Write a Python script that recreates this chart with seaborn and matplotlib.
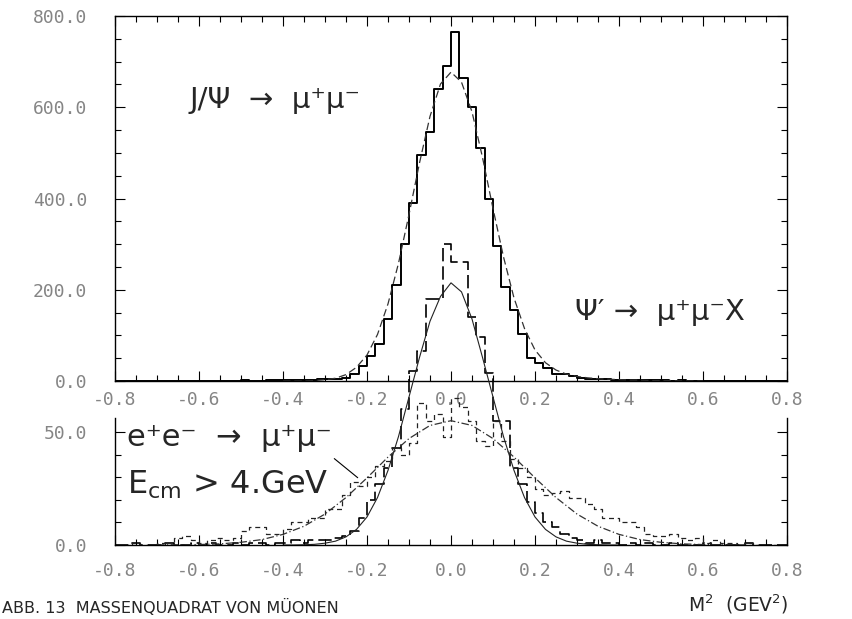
import numpy as np
import pandas as pd
import matplotlib
matplotlib.use("Agg")
import matplotlib.pyplot as plt
from matplotlib.ticker import MultipleLocator, FixedLocator
import seaborn as sns

# bins of 0.02 GeV^2 from -0.8 to 0.8
bin_lo, bin_hi, bin_w = -0.8, 0.8, 0.02

jpsi_counts = [0, 0, 0, 1, 0, 0, 1, 0, 1, 0, 1, 1, 0, 1, 1, 2, 1, 1, 2, 2,
               2, 2, 3, 3, 4,
               5, 5, 7, 15, 33,
               55, 81, 136, 210, 300,
               390, 495, 545, 640, 690,
               765, 665, 600, 510, 400,
               295, 205, 155, 103, 51,
               40, 29, 15, 15, 12,
               6, 5, 5, 4, 3,
               3, 2, 2, 3, 2, 2, 1, 2, 1, 1, 1, 1, 0, 1, 0, 1, 0, 0, 1, 0]

psi2_counts = [0, 0, 1, 0, 0, 0, 1, 0, 0, 1, 0, 1, 0, 0, 1, 0, 1, 1, 0, 1,
               1, 2, 1, 2, 2,
               2, 3, 4, 6, 12,
               20, 27, 34, 43, 60,
               77, 86, 109, 109, 133,
               125, 125, 101, 92, 76,
               55, 55, 34, 27, 19,
               14, 10, 8, 5, 3,
               2, 1, 2, 1, 1,
               0, 1, 0, 1, 0, 0, 1, 0, 0, 0, 1, 0, 0, 0, 0, 1, 0, 0, 0, 0]

ee_counts = [0, 0, 1, 0, 0, 1, 0, 3, 4, 2,
             1, 2, 3, 2, 3, 6, 8, 8, 5, 5,
             7, 10, 10, 12, 12, 16, 16, 22, 28, 26,
             30, 35, 37, 43, 40, 45, 63, 55, 58, 48,
             65, 61, 55, 46, 44, 55, 46, 38, 34, 30,
             25, 22, 23, 24, 21, 21, 18, 16, 12, 12,
             10, 10, 8, 5, 4, 4, 5, 3, 2, 3,
             1, 2, 1, 1, 0, 1, 0, 0, 0, 0]

# fitted curves
jpsi_fit_x = [-0.400, -0.375, -0.350, -0.325, -0.300, -0.275, -0.250, -0.225, -0.200,
              -0.175, -0.150, -0.125, -0.100, -0.075, -0.050, -0.025, 0.000, 0.025,
              0.050, 0.075, 0.100, 0.125, 0.150, 0.175, 0.200, 0.225, 0.250, 0.275,
              0.300, 0.325, 0.350, 0.375, 0.400, 0.425, 0.450, 0.475, 0.500, 0.525,
              0.550, 0.575, 0.600]
jpsi_fit_y = [0, 0, 0, 1, 3, 6, 14, 30, 57, 102, 169, 258, 365, 478, 580, 651, 677, 655,
              590, 490, 378, 272, 182, 115, 68, 40, 24, 15, 10, 7, 5, 4, 3, 2, 2, 1, 1, 1,
              0, 0, 0]

psi2_fit_x = [-0.400, -0.375, -0.350, -0.325, -0.300, -0.275, -0.250, -0.225, -0.200,
              -0.175, -0.150, -0.125, -0.100, -0.075, -0.050, -0.025, 0.000, 0.025,
              0.050, 0.075, 0.100, 0.125, 0.150, 0.175, 0.200, 0.225, 0.250, 0.275,
              0.300, 0.325, 0.350, 0.375, 0.400]
psi2_fit_y = [0, 0, 0.1, 0.3, 0.8, 1.7, 3.6, 6.9, 12.4, 21, 33, 48, 65.5, 83, 99, 110, 116,
              112, 100, 83, 65.5, 48, 33, 21, 12.4, 6.9, 3.6, 1.7, 0.8, 0.3, 0.1, 0, 0]

ee_fit_x = [-0.70, -0.65, -0.60, -0.55, -0.50, -0.45, -0.40, -0.35, -0.30, -0.25, -0.20,
            -0.15, -0.10, -0.05, 0.00, 0.05, 0.10, 0.15, 0.20, 0.25, 0.30, 0.35, 0.40,
            0.45, 0.50, 0.55, 0.60, 0.65, 0.70]
ee_fit_y = [0.05, 0.1, 0.2, 0.5, 1.2, 2.4, 4.7, 8.3, 13.7, 21, 29.7, 38.9, 47.1, 52.9, 55,
            52.9, 47.1, 38.9, 29.7, 21, 13.7, 8.3, 4.7, 2.4, 1.2, 0.5, 0.2, 0.1, 0.05]

top_yticks = [0, 200, 400, 600, 800]
bot_yticks = [0, 50]
xticks = [-0.8, -0.6, -0.4, -0.2, 0.0, 0.2, 0.4, 0.6, 0.8]

edges = [round(e, 3) for e in np.arange(bin_lo, bin_hi + bin_w / 2, bin_w)]
centers = [e + bin_w / 2 for e in edges[:-1]]
hist = pd.DataFrame({"m2": centers, "jpsi": jpsi_counts, "psi2": psi2_counts, "ee": ee_counts})

sns.set_theme(style="ticks")
plt.rcParams["font.family"] = ["DejaVu Sans"]

W, H = 852, 619
fig = plt.figure(figsize=(W / 100, H / 100), dpi=100)
fig.patch.set_facecolor("white")

# pixel layout of the two overlapping panels
left, right = 115, 787
top_top, top_base = 16, 381
bot_base = 545
px_per_count = 2.26

ax_top = fig.add_axes([left / W, 1 - top_base / H, (right - left) / W, (top_base - top_top) / H])
ax_bot = fig.add_axes([left / W, 1 - bot_base / H, (right - left) / W, (bot_base - top_top) / H])
ax_top.set_facecolor("white")
ax_bot.set_facecolor("none")

# J/psi panel
sns.histplot(data=hist, x="m2", weights="jpsi", bins=edges, element="step", fill=False,
             color="black", linewidth=1.4, ax=ax_top)
sns.lineplot(x=jpsi_fit_x, y=jpsi_fit_y, ax=ax_top, color="#333333", linewidth=0.9,
             linestyle=(0, (6, 3)))

# psi' and e+e- panel
sns.histplot(data=hist, x="m2", weights="psi2", bins=edges, element="step", fill=False,
             color="black", linewidth=1.2, linestyle=(0, (8, 3)), ax=ax_bot)
sns.lineplot(x=psi2_fit_x, y=psi2_fit_y, ax=ax_bot, color="#222222", linewidth=0.8)
sns.histplot(data=hist, x="m2", weights="ee", bins=edges, element="step", fill=False,
             color="#222222", linewidth=0.9, linestyle=(0, (4, 3)), ax=ax_bot)
sns.lineplot(x=ee_fit_x, y=ee_fit_y, ax=ax_bot, color="#333333", linewidth=0.9,
             linestyle=(0, (6, 2, 1, 2)))

tick_color = "#858585"
mono = "DejaVu Sans Mono"

ax_top.set_xlim(-0.8, 0.8)
ax_top.set_ylim(0, 800)
ax_top.set_xticks(xticks)
ax_top.set_xticklabels([f"{t:.1f}" for t in xticks])
ax_top.xaxis.set_minor_locator(MultipleLocator(0.05))
ax_top.set_yticks(top_yticks)
ax_top.set_yticklabels([f"{t:.1f}" for t in top_yticks])
ax_top.yaxis.set_minor_locator(MultipleLocator(50))
ax_top.tick_params(which="both", direction="in", top=True, right=True, color="black")
ax_top.tick_params(which="major", length=7, width=0.8)
ax_top.tick_params(which="minor", length=4, width=0.8)
ax_top.tick_params(axis="x", pad=7, labelsize=13, labelcolor=tick_color)
ax_top.tick_params(axis="y", pad=20, labelsize=13, labelcolor=tick_color)
for sp in ax_top.spines.values():
    sp.set_linewidth(1.0)
    sp.set_color("black")

ax_bot.set_xlim(-0.8, 0.8)
ax_bot.set_ylim(0, (bot_base - top_top) / px_per_count)
ax_bot.set_xticks(xticks)
ax_bot.set_xticklabels([f"{t:.1f}" for t in xticks])
ax_bot.xaxis.set_minor_locator(MultipleLocator(0.05))
ax_bot.set_yticks(bot_yticks)
ax_bot.set_yticklabels([f"{t:.1f}" for t in bot_yticks])
ax_bot.yaxis.set_minor_locator(FixedLocator([10, 20, 30, 40]))
ax_bot.tick_params(which="both", direction="in", top=False, right=True, color="black")
ax_bot.tick_params(which="major", length=7, width=0.8)
ax_bot.tick_params(which="minor", length=4, width=0.8)
ax_bot.tick_params(axis="x", pad=12, labelsize=13, labelcolor=tick_color)
ax_bot.tick_params(axis="y", pad=20, labelsize=13, labelcolor=tick_color)
ax_bot.spines["top"].set_visible(False)
ax_bot.spines["left"].set_bounds(0, 56)
ax_bot.spines["right"].set_bounds(0, 56)
for sp in ax_bot.spines.values():
    sp.set_linewidth(1.0)
    sp.set_color("black")

for ax in (ax_top, ax_bot):
    ax.set_xlabel("")
    ax.set_ylabel("")
    for lab in ax.get_xticklabels() + ax.get_yticklabels():
        lab.set_family(mono)

# labels
fig.text(190 / W, 1 - 100 / H, "J/Ψ  →  μ⁺μ⁻", fontsize=21, va="center", ha="left")
fig.text(575 / W, 1 - 312 / H, "Ψ′ →  μ⁺μ⁻X", fontsize=21, va="center", ha="left")
fig.text(127 / W, 1 - 437 / H, "e⁺e⁻  →  μ⁺μ⁻", fontsize=22, va="center", ha="left")
fig.text(127 / W, 1 - 485 / H, r"E$_{\mathrm{cm}}$ > 4.GeV", fontsize=23, va="center", ha="left")
ax_bot.annotate("", xy=(-0.217, 29), xytext=(-0.283, 39),
                arrowprops=dict(arrowstyle="-", color="black", linewidth=0.8))

fig.text(2 / W, 1 - 607 / H, "ABB. 13  MASSENQUADRAT VON MÜONEN", fontsize=11.5,
         va="center", ha="left")
fig.text(688 / W, 1 - 604 / H, r"M$^2$  (GEV$^2$)", fontsize=13.5, va="center", ha="left")

fig.savefig("out.png", dpi=100)
